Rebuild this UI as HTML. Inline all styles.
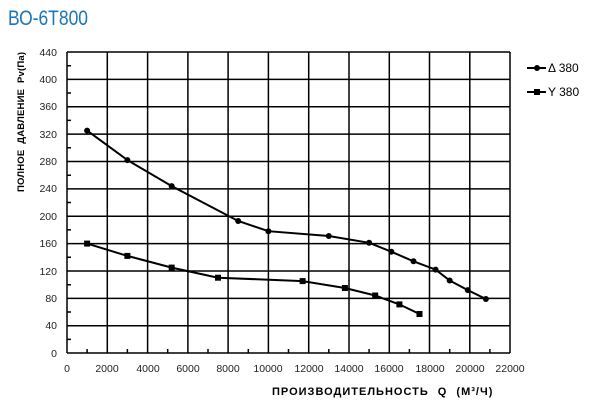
<!DOCTYPE html>
<html><head><meta charset="utf-8"><style>
body{margin:0;background:#fff;width:600px;height:400px;overflow:hidden}
svg{display:block}
text{font-family:"Liberation Sans",sans-serif}
</style></head><body>
<svg width="600" height="400" viewBox="0 0 600 400" xmlns="http://www.w3.org/2000/svg">
<text x="8" y="25" font-size="21" fill="#1a75bc" textLength="80" lengthAdjust="spacingAndGlyphs">ВО-6Т800</text>
<g stroke="#000" stroke-width="1.5" fill="none">
<path d="M67 52V353 M107.3 52V353 M147.6 52V353 M187.9 52V353 M228.1 52V353 M268.4 52V353 M308.7 52V353 M349 52V353 M389.3 52V353 M429.5 52V353 M469.8 52V353 M510 52V353"/>
<path d="M67 52H510 M67 79.4H510 M67 106.7H510 M67 134.1H510 M67 161.5H510 M67 188.9H510 M67 216.2H510 M67 243.6H510 M67 271H510 M67 298.4H510 M67 325.7H510 M67 353H510"/>
<path d="M67 65.7h4 M67 93h4 M67 120.4h4 M67 147.8h4 M67 175.2h4 M67 202.5h4 M67 229.9h4 M67 257.3h4 M67 284.7h4 M67 312h4 M67 339.4h4"/>
<path d="M87.1 353v-4 M127.4 353v-4 M167.7 353v-4 M208 353v-4 M248.3 353v-4 M288.5 353v-4 M328.8 353v-4 M369.1 353v-4 M409.4 353v-4 M449.7 353v-4 M489.9 353v-4"/>
</g>
<g font-size="10.5" fill="#222" text-anchor="end">
<text x="57" y="56">440</text><text x="57" y="83">400</text><text x="57" y="110">360</text><text x="57" y="138">320</text><text x="57" y="165">280</text><text x="57" y="192">240</text><text x="57" y="220">200</text><text x="57" y="247">160</text><text x="57" y="275">120</text><text x="57" y="302">80</text><text x="57" y="329">40</text><text x="57" y="357">0</text>
</g>
<g font-size="10.5" fill="#222" text-anchor="middle">
<text x="67" y="372">0</text><text x="107" y="372">2000</text><text x="148" y="372">4000</text><text x="188" y="372">6000</text><text x="228" y="372">8000</text><text x="268" y="372">10000</text><text x="309" y="372">12000</text><text x="349" y="372">14000</text><text x="389" y="372">16000</text><text x="430" y="372">18000</text><text x="470" y="372">20000</text><text x="510" y="372">22000</text>
</g>
<text x="272" y="395" font-size="11" font-weight="bold" letter-spacing="1" word-spacing="5">ПРОИЗВОДИТЕЛЬНОСТЬ Q (М³/Ч)</text>
<text transform="translate(24,192) rotate(-90)" font-size="9.5" font-weight="bold" letter-spacing="0.2" word-spacing="3">ПОЛНОЕ ДАВЛЕНИЕ Pv(Па)</text>
<g stroke="#000" stroke-width="2" fill="none">
<polyline points="87.1,130.6 127.4,160.1 171.7,186.1 238.2,221 268.4,231.2 328.8,236 369.1,242.8 391.3,251.7 413.5,261.3 435.6,269.6 449.7,280.5 467.8,290.1 485.9,299"/>
<polyline points="87.1,243.6 127.4,255.9 171.7,267.6 218,277.7 302.6,281.1 344.9,288 375.2,295.5 399.4,304.4 419.5,314"/>
<line x1="527" y1="68" x2="546" y2="68"/><line x1="527" y1="92" x2="546" y2="92"/>
</g>
<g fill="#000">
<circle cx="87.1" cy="130.6" r="3"/><circle cx="127.4" cy="160.1" r="3"/><circle cx="171.7" cy="186.1" r="3"/><circle cx="238.2" cy="221" r="3"/><circle cx="268.4" cy="231.2" r="3"/><circle cx="328.8" cy="236" r="3"/><circle cx="369.1" cy="242.8" r="3"/><circle cx="391.3" cy="251.7" r="3"/><circle cx="413.5" cy="261.3" r="3"/><circle cx="435.6" cy="269.6" r="3"/><circle cx="449.7" cy="280.5" r="3"/><circle cx="467.8" cy="290.1" r="3"/><circle cx="485.9" cy="299" r="3"/>
<rect x="84.1" y="240.6" width="6" height="6"/><rect x="124.4" y="252.9" width="6" height="6"/><rect x="168.7" y="264.6" width="6" height="6"/><rect x="215" y="274.7" width="6" height="6"/><rect x="299.6" y="278.1" width="6" height="6"/><rect x="341.9" y="285" width="6" height="6"/><rect x="372.2" y="292.5" width="6" height="6"/><rect x="396.4" y="301.4" width="6" height="6"/><rect x="416.5" y="311" width="6" height="6"/>
<circle cx="537" cy="68" r="3"/><rect x="534" y="89" width="6" height="6"/>
</g>
<text x="548" y="72" font-size="12" fill="#000">Δ 380</text>
<text x="548" y="96" font-size="12" fill="#000">Y 380</text>
</svg>
</body></html>
